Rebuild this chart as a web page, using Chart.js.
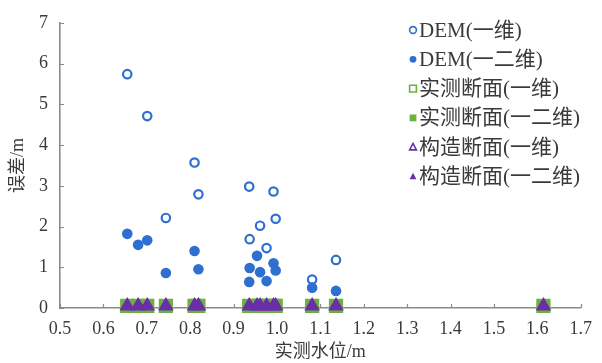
<!DOCTYPE html>
<html><head><meta charset="utf-8">
<script src="https://cdn.jsdelivr.net/npm/chart.js@4/dist/chart.umd.min.js"></script>
<style>html,body{margin:0;padding:0;background:#fff}</style>
</head><body>
<canvas id="c" width="602" height="363" style="display:block;width:602px;height:363px"></canvas>
<script>
// ---- data ----
const seriesNames = ['DEM(一维)', 'DEM(一二维)', '实测断面(一维)', '实测断面(一二维)', '构造断面(一维)', '构造断面(一二维)'];

const demOneX = [0.655, 0.701, 0.744, 0.810, 0.819, 0.936, 0.937, 0.961, 0.976, 0.992, 0.997, 1.081, 1.136];
const demOneY = [5.74, 4.71, 2.21, 3.57, 2.79, 2.98, 1.69, 2.02, 1.47, 2.86, 2.19, 0.70, 1.18];

const demTwoX = [0.655, 0.680, 0.701, 0.744, 0.810, 0.819, 0.936, 0.937, 0.954, 0.961, 0.976, 0.992, 0.997, 1.081, 1.136];
const demTwoY = [1.82, 1.55, 1.66, 0.86, 1.40, 0.95, 0.64, 0.98, 1.28, 0.88, 0.66, 1.10, 0.92, 0.50, 0.42];

const sectionX = [0.655, 0.680, 0.701, 0.744, 0.810, 0.819, 0.936, 0.954, 0.961, 0.976, 0.992, 0.997, 1.081, 1.136, 1.614];
const measuredOneY = [0.05, 0.05, 0.05, 0.05, 0.05, 0.05, 0.05, 0.05, 0.05, 0.05, 0.05, 0.05, 0.05, 0.05, 0.05];
const measuredTwoY = [0.05, 0.05, 0.05, 0.05, 0.05, 0.05, 0.05, 0.05, 0.05, 0.05, 0.05, 0.05, 0.05, 0.05, 0.05];
const builtOneY = [0.05, 0.05, 0.05, 0.05, 0.05, 0.05, 0.05, 0.05, 0.05, 0.05, 0.05, 0.05, 0.05, 0.05, 0.05];
const builtTwoY = [0.05, 0.05, 0.05, 0.05, 0.05, 0.05, 0.05, 0.05, 0.05, 0.05, 0.05, 0.05, 0.05, 0.05, 0.05];

const xTickValues = [0.5, 0.6, 0.7, 0.8, 0.9, 1.0, 1.1, 1.2, 1.3, 1.4, 1.5, 1.6, 1.7];
const yTickValues = [0, 1, 2, 3, 4, 5, 6, 7];
const xTitle = '实测水位/m';
const yTitle = '误差/m';

// ---- styling ----
const BLUE = '#2e6fd0', GREEN = '#6cb040', PURPLE = '#6a2ea8';
const AXIS = '#8a8a8a', TEXT = '#3a3a3a';
const FONT = '"Liberation Serif", "Noto Sans CJK SC", serif';

const pts = (xs, ys) => xs.map((x, i) => ({ x, y: ys[i] }));

const datasets = [
  { label: seriesNames[0], data: pts(demOneX, demOneY), pointStyle: 'circle', pointRadius: 4.2, borderWidth: 2.2,
    borderColor: BLUE, backgroundColor: '#ffffff', order: 5, legend: { style: 'circle', fill: false, color: BLUE } },
  { label: seriesNames[1], data: pts(demTwoX, demTwoY), pointStyle: 'circle', pointRadius: 5.3, borderWidth: 0,
    borderColor: BLUE, backgroundColor: BLUE, order: 4, legend: { style: 'circle', fill: true, color: BLUE } },
  { label: seriesNames[2], data: pts(sectionX, measuredOneY), pointStyle: 'rect', pointRadius: 9, borderWidth: 1.5,
    borderColor: GREEN, backgroundColor: 'rgba(0,0,0,0)', order: 3, legend: { style: 'rect', fill: false, color: GREEN } },
  { label: seriesNames[3], data: pts(sectionX, measuredTwoY), pointStyle: 'rect', pointRadius: 9.2, borderWidth: 0,
    borderColor: GREEN, backgroundColor: GREEN, order: 2, legend: { style: 'rect', fill: true, color: GREEN } },
  { label: seriesNames[4], data: pts(sectionX, builtOneY), pointStyle: 'triangle', pointRadius: 7.5, borderWidth: 1.5,
    borderColor: PURPLE, backgroundColor: 'rgba(0,0,0,0)', order: 1, legend: { style: 'triangle', fill: false, color: PURPLE } },
  { label: seriesNames[5], data: pts(sectionX, builtTwoY), pointStyle: 'triangle', pointRadius: 8, borderWidth: 0,
    borderColor: PURPLE, backgroundColor: PURPLE, order: 0, legend: { style: 'triangle', fill: true, color: PURPLE } }
];
datasets.forEach(d => { d.pointHoverRadius = d.pointRadius; d.pointBorderWidth = d.borderWidth; d.clip = false; });

// inward tick marks on both axes
const innerTicks = {
  id: 'innerTicks',
  beforeDatasetsDraw(chart) {
    const { ctx, chartArea: a, scales: { x, y } } = chart;
    ctx.save();
    ctx.strokeStyle = AXIS; ctx.lineWidth = 1.2;
    ctx.beginPath();
    xTickValues.forEach(v => { const px = Math.round(x.getPixelForValue(v)) + 0.5; ctx.moveTo(px, a.bottom); ctx.lineTo(px, a.bottom - 4); });
    yTickValues.forEach(v => { const py = Math.round(y.getPixelForValue(v)) + 0.5; ctx.moveTo(a.left, py); ctx.lineTo(a.left + 4, py); });
    ctx.stroke();
    ctx.restore();
  }
};

function marker(ctx, style, fill, color, cx, cy, r) {
  ctx.beginPath();
  if (style === 'circle') ctx.arc(cx, cy, r, 0, Math.PI * 2);
  else if (style === 'rect') ctx.rect(cx - r, cy - r, 2 * r, 2 * r);
  else { ctx.moveTo(cx, cy - r * 1.1); ctx.lineTo(cx + r, cy + r * 0.8); ctx.lineTo(cx - r, cy + r * 0.8); ctx.closePath(); }
  if (fill) { ctx.fillStyle = color; ctx.fill(); }
  else { ctx.strokeStyle = color; ctx.lineWidth = 1.6; ctx.stroke(); }
}

// legend drawn inside the plot, top-right
const insideLegend = {
  id: 'insideLegend',
  afterDraw(chart) {
    const ctx = chart.ctx;
    ctx.save();
    ctx.font = '21px ' + FONT;
    ctx.textBaseline = 'middle';
    ctx.textAlign = 'left';
    chart.data.datasets.forEach((d, i) => {
      const yy = 30 + i * 29.3;
      marker(ctx, d.legend.style, d.legend.fill, d.legend.color, 413, yy, 3.4);
      ctx.fillStyle = TEXT;
      ctx.fillText(d.label, 419, yy + 1);
    });
    ctx.restore();
  }
};

new Chart(document.getElementById('c'), {
  type: 'scatter',
  data: { datasets },
  options: {
    responsive: false,
    animation: false,
    devicePixelRatio: 1,
    layout: { padding: { top: 19, right: 15, left: 0, bottom: 0 } },
    plugins: { legend: { display: false }, tooltip: { enabled: false } },
    scales: {
      x: {
        type: 'linear', min: 0.5, max: 1.7,
        afterBuildTicks: s => { s.ticks = xTickValues.map(v => ({ value: v })); },
        afterFit: s => { s.height = 55; },
        ticks: { padding: 10, color: TEXT, font: { family: FONT, size: 18 }, maxRotation: 0, autoSkip: false,
                 callback: v => Number(v).toFixed(1) },
        grid: { drawOnChartArea: false, drawTicks: false },
        border: { color: AXIS, width: 1.6 },
        title: { display: true, text: xTitle, color: TEXT, font: { family: FONT, size: 18 }, padding: { top: 0, bottom: 0 } }
      },
      y: {
        type: 'linear', min: 0, max: 7,
        afterBuildTicks: s => { s.ticks = yTickValues.map(v => ({ value: v })); },
        afterFit: s => { s.width = 60; },
        ticks: { padding: 12, color: TEXT, font: { family: FONT, size: 18 }, callback: v => String(v) },
        grid: { drawOnChartArea: false, drawTicks: false },
        border: { color: AXIS, width: 1.6 },
        title: { display: true, text: yTitle, color: TEXT, font: { family: FONT, size: 18 }, padding: { top: 7, bottom: 0 } }
      }
    }
  },
  plugins: [innerTicks, insideLegend]
});
</script>
</body></html>
